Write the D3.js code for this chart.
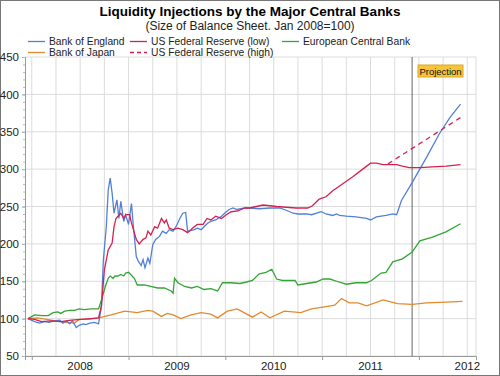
<!DOCTYPE html>
<html>
<head>
<meta charset="utf-8">
<script src="https://cdn.jsdelivr.net/npm/d3@7"></script>
<style>
  body { margin: 0; background: #fff; }
  svg { display: block; font-family: "Liberation Sans", Arial, sans-serif; }
</style>
</head>
<body>
<svg id="chart" width="500" height="376"></svg>
<script>
// series data: [decimal year, index value]
const bankOfEngland = [
  [2007.96, 100], [2008.03, 96], [2008.08, 94], [2008.13, 96], [2008.18, 95], [2008.23, 97],
  [2008.29, 98], [2008.32, 94], [2008.36, 97], [2008.39, 93], [2008.42, 97], [2008.46, 88],
  [2008.49, 91], [2008.53, 93], [2008.56, 92], [2008.60, 94], [2008.65, 95], [2008.69, 93],
  [2008.72, 117], [2008.74, 179], [2008.77, 223], [2008.79, 272], [2008.81, 288], [2008.83, 268],
  [2008.85, 241], [2008.88, 259], [2008.90, 234], [2008.92, 257], [2008.95, 230], [2008.97, 239],
  [2009.00, 226], [2009.03, 254], [2009.05, 223], [2009.08, 183], [2009.10, 177], [2009.13, 171],
  [2009.15, 179], [2009.17, 168], [2009.20, 181], [2009.22, 174], [2009.25, 199], [2009.28, 206],
  [2009.32, 210], [2009.35, 217], [2009.39, 214], [2009.42, 219], [2009.46, 217], [2009.49, 223],
  [2009.53, 234], [2009.56, 241], [2009.59, 242], [2009.61, 217], [2009.65, 218], [2009.68, 219],
  [2009.71, 221], [2009.75, 219], [2009.78, 223], [2009.82, 228], [2009.85, 230], [2009.90, 232],
  [2009.96, 237], [2010.01, 243], [2010.04, 246], [2010.08, 248], [2010.12, 246], [2010.20, 248],
  [2010.25, 248], [2010.35, 247], [2010.46, 248], [2010.56, 248], [2010.63, 245], [2010.70, 241],
  [2010.75, 240], [2010.84, 240], [2010.89, 239], [2010.99, 243], [2011.04, 240], [2011.11, 238],
  [2011.15, 240], [2011.18, 238], [2011.25, 237], [2011.35, 236], [2011.46, 234], [2011.50, 232],
  [2011.56, 236], [2011.66, 238], [2011.73, 240], [2011.77, 239], [2011.82, 258], [2011.93, 282],
  [2012.08, 316], [2012.21, 347], [2012.32, 369], [2012.43, 387]
];

const fedLow = [
  [2007.96, 100], [2008.03, 99], [2008.10, 96], [2008.20, 97], [2008.30, 96], [2008.41, 98],
  [2008.51, 99], [2008.61, 100], [2008.69, 101], [2008.72, 117], [2008.75, 165], [2008.79, 192],
  [2008.83, 201], [2008.85, 223], [2008.87, 234], [2008.89, 237], [2008.92, 241], [2008.95, 234],
  [2008.97, 239], [2009.01, 239], [2009.03, 228], [2009.08, 206], [2009.11, 200], [2009.15, 206],
  [2009.18, 208], [2009.20, 217], [2009.23, 212], [2009.27, 223], [2009.30, 221], [2009.34, 234],
  [2009.37, 228], [2009.39, 232], [2009.42, 221], [2009.46, 219], [2009.51, 221], [2009.56, 219],
  [2009.61, 215], [2009.66, 221], [2009.71, 226], [2009.77, 226], [2009.81, 234], [2009.85, 232],
  [2009.90, 237], [2009.96, 234], [2010.01, 239], [2010.06, 243], [2010.13, 244], [2010.20, 248],
  [2010.25, 248], [2010.32, 250], [2010.39, 252], [2010.46, 251], [2010.53, 250], [2010.63, 249],
  [2010.73, 248], [2010.85, 248], [2010.90, 251], [2010.97, 260], [2011.04, 263], [2011.11, 271],
  [2011.21, 280], [2011.32, 290], [2011.42, 300], [2011.50, 308], [2011.56, 308], [2011.63, 306],
  [2011.70, 306], [2011.77, 306], [2011.83, 304], [2011.90, 302], [2012.01, 302], [2012.14, 303],
  [2012.28, 304], [2012.43, 306]
];

const fedHigh = [
  [2011.68, 307], [2012.43, 369]
];

const ecb = [
  [2007.96, 100], [2008.03, 105], [2008.10, 104], [2008.17, 104], [2008.22, 108], [2008.27, 109],
  [2008.30, 107], [2008.34, 110], [2008.39, 111], [2008.44, 111], [2008.49, 113], [2008.54, 112],
  [2008.61, 113], [2008.69, 113], [2008.72, 125], [2008.76, 143], [2008.79, 154], [2008.81, 157],
  [2008.84, 154], [2008.86, 157], [2008.89, 157], [2008.92, 159], [2008.95, 157], [2008.97, 161],
  [2009.00, 162], [2009.03, 158], [2009.06, 154], [2009.09, 145], [2009.16, 145], [2009.23, 143],
  [2009.30, 141], [2009.37, 141], [2009.44, 137], [2009.46, 134], [2009.475, 154], [2009.51, 148],
  [2009.58, 143], [2009.65, 141], [2009.71, 143], [2009.78, 139], [2009.85, 140], [2009.92, 137],
  [2009.97, 148], [2010.06, 148], [2010.15, 147], [2010.22, 149], [2010.28, 151], [2010.35, 160],
  [2010.42, 162], [2010.48, 166], [2010.53, 153], [2010.59, 151], [2010.72, 151], [2010.75, 145],
  [2010.84, 147], [2010.94, 149], [2011.01, 153], [2011.08, 153], [2011.15, 150], [2011.25, 146],
  [2011.35, 148], [2011.46, 148], [2011.51, 151], [2011.56, 156], [2011.61, 161], [2011.66, 162],
  [2011.73, 176], [2011.83, 180], [2011.93, 189], [2012.01, 204], [2012.14, 209], [2012.28, 216],
  [2012.43, 227]
];

const bankOfJapan = [
  [2007.96, 100], [2008.06, 101], [2008.20, 98], [2008.34, 95], [2008.44, 94], [2008.49, 99],
  [2008.58, 99], [2008.69, 101], [2008.82, 105], [2008.96, 110], [2009.09, 108], [2009.20, 111],
  [2009.25, 110], [2009.34, 103], [2009.40, 107], [2009.46, 105], [2009.54, 100], [2009.645, 105],
  [2009.75, 108], [2009.85, 106], [2009.92, 101], [2010.02, 110], [2010.09, 112], [2010.12, 113],
  [2010.15, 111], [2010.28, 102], [2010.37, 109], [2010.46, 101], [2010.61, 110], [2010.78, 108],
  [2010.89, 113], [2011.04, 116], [2011.13, 118], [2011.20, 127], [2011.28, 121], [2011.37, 121],
  [2011.46, 117], [2011.63, 125], [2011.78, 120], [2011.93, 119], [2012.08, 121], [2012.28, 122],
  [2012.45, 123]
];

const yTicks = [50, 100, 150, 200, 250, 300, 350, 400, 450];
const yearTicks = [2008, 2009, 2010, 2011, 2012];
const yearLabels = ["2008", "2009", "2010", "2011", "2012"];
const projectionAt = 2011.93;

const svg = d3.select("#chart");
const W = 500, H = 376;
const plot = { left: 25, right: 476, top: 57, bottom: 356 };

svg.append("rect")
  .attr("x", 0.5).attr("y", 0.5)
  .attr("width", W - 1).attr("height", H - 1)
  .attr("fill", "#fff").attr("stroke", "#777");

const x = d3.scaleLinear().domain([2007.93, 2012.59]).range([plot.left, plot.right]);
const y = d3.scaleLinear().domain([50, 450]).range([plot.bottom, plot.top]);

// Titre
svg.append("text")
  .attr("x", W / 2).attr("y", 16)
  .attr("text-anchor", "middle")
  .style("font-size", "13.5px").style("font-weight", "bold")
  .text("Liquidity Injections by the Major Central Banks");

svg.append("text")
  .attr("x", W / 2).attr("y", 30)
  .attr("text-anchor", "middle")
  .style("font-size", "12px").attr("fill", "#222")
  .text("(Size of Balance Sheet. Jan 2008=100)");

// Lưới
const grid = svg.append("g");
grid.selectAll("line.v")
  .data(d3.range(2008, 2012.51, 0.25))
  .enter().append("line")
  .attr("x1", d => x(d)).attr("x2", d => x(d))
  .attr("y1", plot.top).attr("y2", plot.bottom)
  .attr("stroke", "#dcdcdc");

grid.selectAll("line.h")
  .data(yTicks)
  .enter().append("line")
  .attr("x1", plot.left).attr("x2", plot.right)
  .attr("y1", d => y(d)).attr("y2", d => y(d))
  .attr("stroke", "#dcdcdc");

grid.append("line")
  .attr("x1", plot.right).attr("x2", plot.right)
  .attr("y1", plot.top).attr("y2", plot.bottom)
  .attr("stroke", "#dcdcdc");

// Trục Y
const yAxis = svg.append("g")
  .attr("transform", `translate(${plot.left},0)`)
  .call(d3.axisLeft(y).tickValues(yTicks).tickSize(3).tickPadding(3));
yAxis.select(".domain").attr("stroke", "#999");
yAxis.selectAll(".tick line").attr("stroke", "#999");
yAxis.selectAll("text").style("font-size", "11.5px").attr("fill", "#222")
  .style("font-family", "Liberation Sans, Arial, sans-serif");

svg.append("g")
  .attr("transform", `translate(${plot.left},0)`)
  .call(d3.axisLeft(y).tickValues(d3.range(50, 451, 10)).tickSize(2).tickFormat(""))
  .call(g => g.select(".domain").remove())
  .selectAll("line").attr("stroke", "#bbb");

// Trục X
const xAxis = svg.append("g")
  .attr("transform", `translate(0,${plot.bottom})`)
  .call(d3.axisBottom(x).tickValues(yearTicks).tickSize(4).tickFormat(""));
xAxis.select(".domain").attr("stroke", "#999");
xAxis.selectAll(".tick line").attr("stroke", "#999");

svg.selectAll("text.year")
  .data(yearLabels)
  .enter().append("text")
  .attr("x", (d, i) => x(yearTicks[i] + 0.5))
  .attr("y", 370)
  .attr("text-anchor", "middle")
  .style("font-size", "11.5px").attr("fill", "#222")
  .text(d => d);

// Projection
svg.append("line")
  .attr("x1", x(projectionAt)).attr("x2", x(projectionAt))
  .attr("y1", plot.top).attr("y2", plot.bottom)
  .attr("stroke", "#666");

svg.append("rect")
  .attr("x", 418).attr("y", 65).attr("width", 45).attr("height", 12)
  .attr("fill", "#f5c63a").attr("stroke", "#d9a82a");
svg.append("text")
  .attr("x", 440.5).attr("y", 74.5)
  .attr("text-anchor", "middle")
  .style("font-size", "9.5px").attr("fill", "#111")
  .text("Projection");

// Lines
const line = d3.line().x(d => x(d[0])).y(d => y(d[1]));
const series = [
  { name: "Bank of Japan", data: bankOfJapan, color: "#e38a2e", dash: null },
  { name: "European Central Bank", data: ecb, color: "#33a535", dash: null },
  { name: "Bank of England", data: bankOfEngland, color: "#5280d8", dash: null },
  { name: "US Federal Reserve (low)", data: fedLow, color: "#d6204f", dash: null },
  { name: "US Federal Reserve (high)", data: fedHigh, color: "#d6204f", dash: "5,4" }
];

svg.append("g").selectAll("path")
  .data(series)
  .enter().append("path")
  .attr("d", d => line(d.data))
  .attr("fill", "none")
  .attr("stroke", d => d.color)
  .attr("stroke-width", 1.3)
  .attr("stroke-dasharray", d => d.dash);

// Legend
const legendItems = [
  { name: "Bank of England", color: "#5280d8", dash: null, lx: 28, ly: 41.5 },
  { name: "US Federal Reserve (low)", color: "#d6204f", dash: null, lx: 130, ly: 41.5 },
  { name: "European Central Bank", color: "#33a535", dash: null, lx: 282, ly: 41.5 },
  { name: "Bank of Japan", color: "#e38a2e", dash: null, lx: 28, ly: 52.5 },
  { name: "US Federal Reserve (high)", color: "#d6204f", dash: "4,3", lx: 130, ly: 52.5 }
];
const legend = svg.append("g").selectAll("g")
  .data(legendItems)
  .enter().append("g");
legend.append("line")
  .attr("x1", d => d.lx).attr("x2", d => d.lx + 17)
  .attr("y1", d => d.ly).attr("y2", d => d.ly)
  .attr("stroke", d => d.color).attr("stroke-width", 1.3)
  .attr("stroke-dasharray", d => d.dash);
legend.append("text")
  .attr("x", d => d.lx + 21).attr("y", d => d.ly + 3.7)
  .style("font-size", "10.3px").attr("fill", "#222")
  .text(d => d.name);
</script>
</body>
</html>
